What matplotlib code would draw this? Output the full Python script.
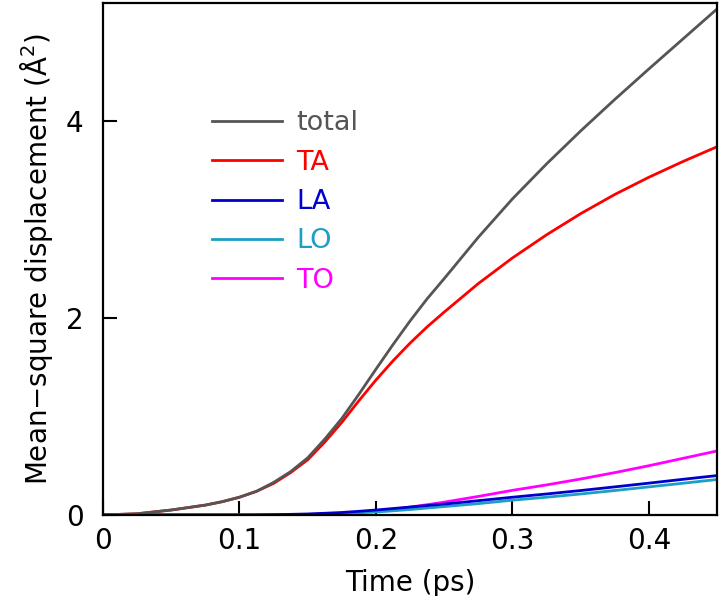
import matplotlib
matplotlib.use("Agg")
import matplotlib.pyplot as plt

time_ps = [0.0, 0.025, 0.05, 0.075, 0.0875, 0.1, 0.1125, 0.125, 0.1375, 0.15,
           0.1625, 0.175, 0.1875, 0.2, 0.2125, 0.225, 0.2375, 0.25,
           0.275, 0.3, 0.325, 0.35, 0.375, 0.4, 0.425, 0.45]
msd_total = [0.0, 0.012, 0.05, 0.10, 0.135, 0.18, 0.24, 0.33, 0.44, 0.58,
             0.77, 0.98, 1.225, 1.48, 1.73, 1.97, 2.195, 2.40,
             2.82, 3.21, 3.565, 3.90, 4.22, 4.53, 4.835, 5.14]
msd_TA = [0.0, 0.012, 0.05, 0.10, 0.135, 0.18, 0.24, 0.32, 0.43, 0.56,
          0.74, 0.94, 1.16, 1.37, 1.565, 1.745, 1.91, 2.06,
          2.35, 2.61, 2.845, 3.06, 3.255, 3.43, 3.59, 3.74]
msd_LA = [0.0, 0.0, 0.0, 0.0, 0.0, 0.0, 0.001, 0.003, 0.006, 0.01,
          0.017, 0.025, 0.037, 0.05, 0.065, 0.08, 0.095, 0.11,
          0.145, 0.18, 0.213, 0.248, 0.285, 0.323, 0.362, 0.40]
msd_LO = [0.0, 0.0, 0.0, 0.0, 0.0, 0.0, 0.0, 0.001, 0.003, 0.005,
          0.009, 0.015, 0.022, 0.03, 0.042, 0.055, 0.07, 0.085,
          0.115, 0.15, 0.18, 0.213, 0.248, 0.285, 0.322, 0.36]
msd_TO = [0.0, 0.0, 0.0, 0.0, 0.0, 0.0, 0.0, 0.001, 0.003, 0.005,
          0.009, 0.015, 0.026, 0.04, 0.058, 0.08, 0.104, 0.13,
          0.188, 0.25, 0.305, 0.365, 0.43, 0.50, 0.575, 0.65]

series = [
    ("total", msd_total, "#555555"),
    ("TA", msd_TA, "#ff0000"),
    ("LA", msd_LA, "#0000cc"),
    ("LO", msd_LO, "#1c9fc6"),
    ("TO", msd_TO, "#ff00ff"),
]

x_ticks = [0, 0.1, 0.2, 0.3, 0.4]
x_ticklabels = ["0", "0.1", "0.2", "0.3", "0.4"]
y_ticks = [0, 2, 4]
y_ticklabels = ["0", "2", "4"]

fig = plt.figure(figsize=(7.2, 5.96), dpi=100)
ax = fig.add_axes([0.143, 0.136, 0.853, 0.859])

for name, vals, col in reversed(series):
    ax.plot(time_ps, vals, color=col, lw=2.0, label=name,
            solid_joinstyle="round")

ax.set_xlim(0, 0.45)
ax.set_ylim(0, 5.2)
ax.set_xticks(x_ticks)
ax.set_xticklabels(x_ticklabels)
ax.set_yticks(y_ticks)
ax.set_yticklabels(y_ticklabels)
ax.tick_params(direction="in", length=10, width=1.5, labelsize=20,
               top=False, right=False)
ax.tick_params(axis="x", pad=9)
ax.tick_params(axis="y", pad=14)
for sp in ax.spines.values():
    sp.set_linewidth(1.6)

ax.set_xlabel("Time (ps)", fontsize=20, labelpad=10)
ax.set_ylabel("Mean\u2212square displacement (Å$^2$)", fontsize=20, labelpad=8)

handles, labels = ax.get_legend_handles_labels()
handles = handles[::-1]
labels = labels[::-1]
leg = ax.legend(handles, labels, loc="upper left", bbox_to_anchor=(0.1775, 0.79),
                frameon=False, fontsize=19.5, handlelength=2.6, handletextpad=0.5,
                labelspacing=0.49, labelcolor="linecolor", borderpad=0,
                borderaxespad=0)

fig.savefig("out.png", dpi=100)
